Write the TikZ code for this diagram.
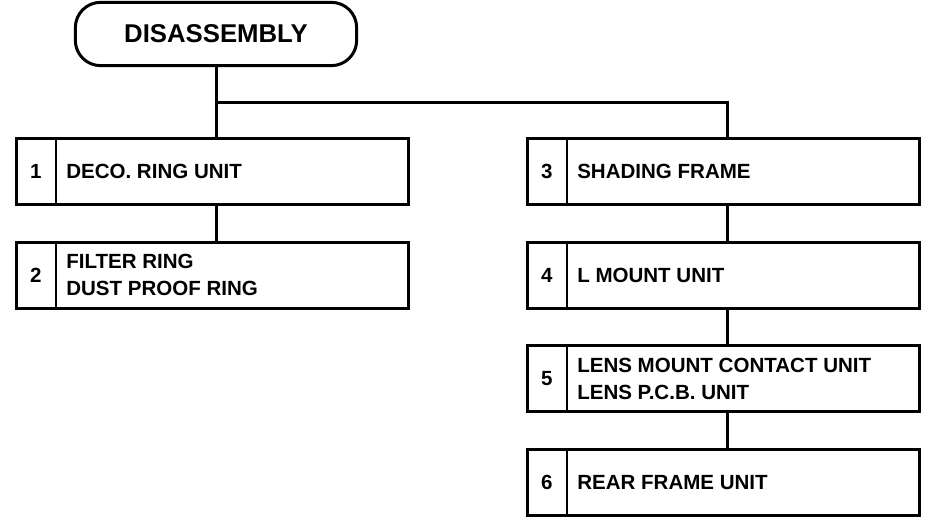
\documentclass[tikz,border=0pt]{standalone}
\usepackage{fontspec}
\setmainfont{Liberation Sans}
\usetikzlibrary{positioning,calc}
\tikzset{
  base/.style={font=\bfseries\fontsize{15.4}{20}\selectfont,inner sep=0pt},
  title/.style={base,draw,line width=2.25pt,rounded corners=19pt,minimum width=211pt,minimum height=47.5pt,font=\bfseries\fontsize{19.3}{22}\selectfont},
  part/.style={base,draw,line width=2.25pt,minimum width=294pt,minimum height=49.5pt},
  num/.style={base,anchor=center},
  desc/.style={base,anchor=west,align=left},
  divide/.style={line width=1pt},
  link/.style={line width=2.25pt}
}

\begin{document}
\begin{tikzpicture}[x=0.75pt,y=-0.75pt]
\useasboundingbox (0,0) rectangle (925,523);
\node[title] (top) at (216,34) {DISASSEMBLY};
\node[part] (b1) at (212.5,171.5) {};
\node[part,below=26pt of b1] (b2) {};
\node[part,right=87pt of b1] (b3) {};
\node[part,below=26pt of b3] (b4) {};
\node[part,below=26pt of b4] (b5) {};
\node[part,below=26pt of b5] (b6) {};
% number, divider and name in each box
\foreach \b/\n/\t in {b1/1/{DECO. RING UNIT},b2/2/{FILTER RING\\DUST PROOF RING},
  b3/3/{SHADING FRAME},b4/4/{L MOUNT UNIT},
  b5/5/{LENS MOUNT CONTACT UNIT\\LENS P.C.B. UNIT},b6/6/{REAR FRAME UNIT}}{
  \node[num] (\b n) at ([xshift=15.6pt]\b.west) {\n};
  \node[desc] (\b t) at ([xshift=38.25pt]\b.west) {\t};
  \draw[divide] ([xshift=30.75pt]\b.north west) -- ([xshift=30.75pt]\b.south west);
}
% connectors
\coordinate (bus) at ($(top.south)!0.5!(top.south |- b1.north)$);
\draw[link] (top.south) -- (top.south |- b1.north);
\draw[link] (bus) -| ([xshift=3pt]b3.north);
\draw[link] ([xshift=3pt]b1.south) -- ([xshift=3pt]b2.north);
\draw[link] ([xshift=3pt]b3.south) -- ([xshift=3pt]b4.north);
\draw[link] ([xshift=3pt]b4.south) -- ([xshift=3pt]b5.north);
\draw[link] ([xshift=3pt]b5.south) -- ([xshift=3pt]b6.north);
\end{tikzpicture}
\end{document}
